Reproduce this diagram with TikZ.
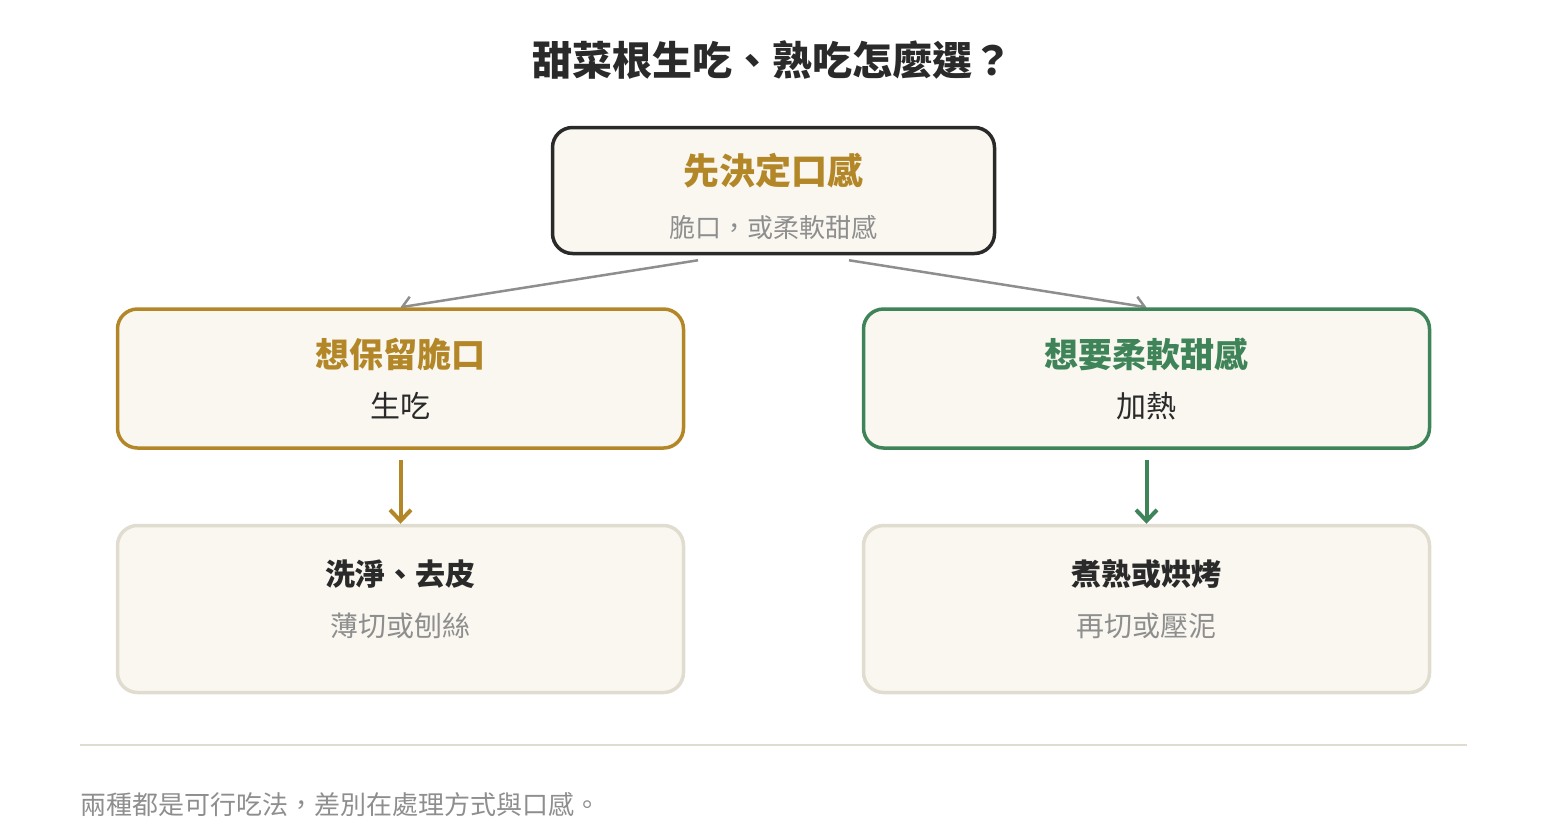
\documentclass[tikz,border=0pt]{standalone}
\usepackage{fontspec}
\setmainfont{Noto Sans CJK TC}
\usepackage{tikz}
\usetikzlibrary{positioning}
\usetikzlibrary{calc}
\usetikzlibrary{arrows.meta}
\usetikzlibrary{backgrounds}

\definecolor{ink}{HTML}{2A2A2A}
\definecolor{gold}{HTML}{B38728}
\definecolor{leaf}{HTML}{3E8458}
\definecolor{mute}{HTML}{8E8E8E}
\definecolor{paper}{HTML}{F9F7F0}
\definecolor{sand}{HTML}{E0DCD0}

\tikzset{
	box/.style={draw, line width=3.5pt, rounded corners=20pt, fill=paper, inner sep=0pt},
	link/.style={draw=mute, line width=2.5pt, -{Straight Barb[length=9pt, width=18pt]}},
	drop/.style={line width=4pt, -{Straight Barb[length=11pt, width=21pt]}}
}

\begin{document}
\begin{tikzpicture}[x=1pt, y=-1pt]
\useasboundingbox (0,0) rectangle (1546,820);

\node[
	font=\bfseries\fontsize{40}{48}\selectfont,
	text=ink
] (heading) at (772,60) {甜菜根生吃、熟吃怎麼選？};

\node[
	box,
	draw=ink,
	minimum width=442pt,
	minimum height=126pt
] (choose) at (773.5,190.5) {};

\node[
	box,
	draw=gold,
	minimum width=566pt,
	minimum height=139pt,
	below=52pt of choose,
	xshift=-373pt
] (crisp) {};

\node[
	box,
	draw=leaf,
	minimum width=566pt,
	minimum height=139pt,
	below=52pt of choose,
	xshift=373pt
] (soften) {};

\node[
	box,
	draw=sand,
	minimum width=566pt,
	minimum height=167pt,
	below=74pt of crisp
] (rawPrep) {};

\node[
	box,
	draw=sand,
	minimum width=566pt,
	minimum height=167pt,
	below=74pt of soften
] (cookPrep) {};

% ---

\node[font=\bfseries\fontsize{36}{42}\selectfont, text=gold] (chooseTitle)
	at ($(choose.north) + (0, 45)$) {先決定口感};
\node[font=\fontsize{26}{30}\selectfont, text=mute] (chooseSub)
	at ($(choose.north) + (0, 102)$) {脆口，或柔軟甜感};

\node[font=\bfseries\fontsize{34}{40}\selectfont, text=gold] (crispTitle)
	at ($(crisp.north) + (0, 47)$) {想保留脆口};
\node[font=\fontsize{30}{36}\selectfont, text=ink] (crispSub)
	at ($(crisp.north) + (0, 99)$) {生吃};

\node[font=\bfseries\fontsize{34}{40}\selectfont, text=leaf] (softenTitle)
	at ($(soften.north) + (0, 47)$) {想要柔軟甜感};
\node[font=\fontsize{30}{36}\selectfont, text=ink] (softenSub)
	at ($(soften.north) + (0, 99)$) {加熱};

\node[font=\bfseries\fontsize{30}{36}\selectfont, text=ink] (rawTitle)
	at ($(rawPrep.north) + (0, 50)$) {洗淨、去皮};
\node[font=\fontsize{28}{34}\selectfont, text=mute] (rawSub)
	at ($(rawPrep.north) + (0, 102)$) {薄切或刨絲};

\node[font=\bfseries\fontsize{30}{36}\selectfont, text=ink] (cookTitle)
	at ($(cookPrep.north) + (0, 50)$) {煮熟或烘烤};
\node[font=\fontsize{28}{34}\selectfont, text=mute] (cookSub)
	at ($(cookPrep.north) + (0, 102)$) {再切或壓泥};

% ---

\begin{scope}[on background layer]
\draw[link] ($(choose.south) + (-75.5, 5)$) -- (crisp.north);
\draw[link] ($(choose.south) + (+75.5, 5)$) -- (soften.north);
\end{scope}

\draw[drop, draw=gold] ($(crisp.south) + (0, 10)$) -- (rawPrep.north);
\draw[drop, draw=leaf] ($(soften.south) + (0, 10)$) -- (cookPrep.north);

% ---

\coordinate (ruleStart) at (80,745);
\coordinate (ruleEnd) at (1467,745);
\draw[draw=sand, line width=2pt] (ruleStart) -- (ruleEnd);

\node[
	font=\fontsize{26}{30}\selectfont,
	text=mute,
	anchor=west,
	inner sep=0pt
] (note) at (80,805) {兩種都是可行吃法，差別在處理方式與口感。};

\end{tikzpicture}
\end{document}
